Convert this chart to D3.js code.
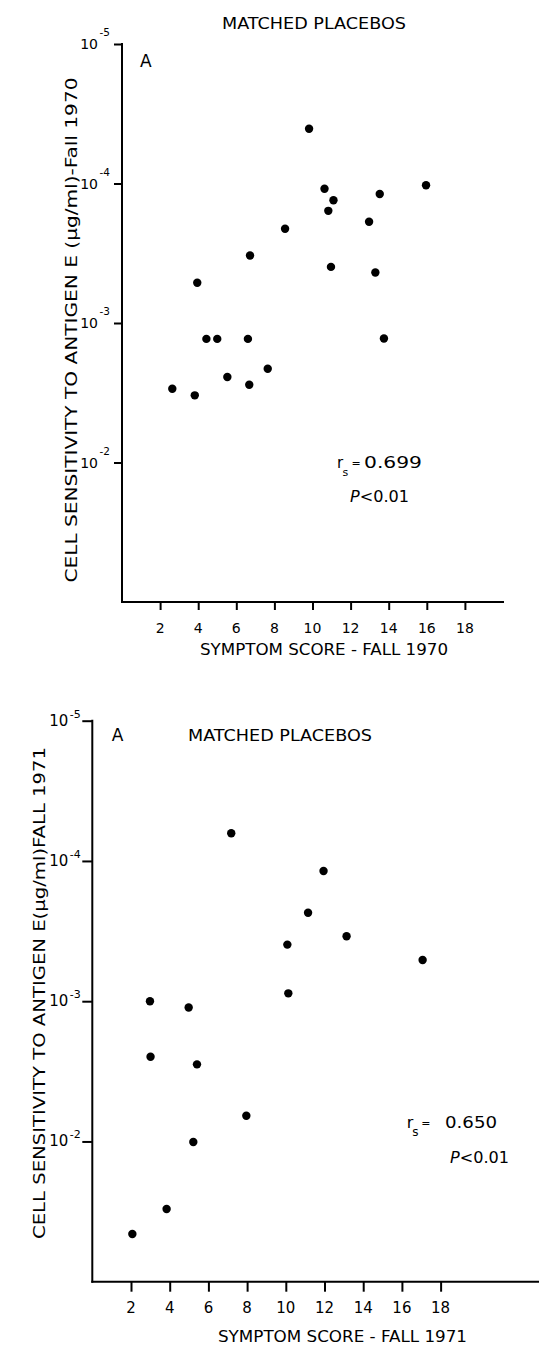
<!DOCTYPE html>
<html>
<head>
<meta charset="utf-8">
<script src="https://cdn.jsdelivr.net/npm/d3@7"></script>
<style>
  html, body { margin: 0; padding: 0; background: #fff; }
  svg { display: block; }
  text { font-family: "DejaVu Sans", sans-serif; fill: #000; }
</style>
</head>
<body>
<svg id="chart" width="539" height="1347"></svg>
<script>
// ---------- DATA ----------
const xTicks = [2, 4, 6, 8, 10, 12, 14, 16, 18];
const yTicks = [1e-5, 1e-4, 1e-3, 1e-2];
const yTickExponents = ["-5", "-4", "-3", "-2"];

// Panel 1: Fall 1970
const score1970 = [9.82, 10.63, 11.1, 10.83, 13.53, 12.97, 8.56, 6.72, 10.97, 13.3, 3.95,
                   4.43, 5.0, 6.61, 13.75, 7.65, 5.53, 6.68, 2.64, 3.82, 15.96];
const sens1970 = [4.05e-5, 1.09e-4, 1.32e-4, 1.57e-4, 1.19e-4, 1.88e-4, 2.11e-4, 3.28e-4, 3.96e-4, 4.35e-4, 5.15e-4,
                  1.30e-3, 1.30e-3, 1.30e-3, 1.29e-3, 2.13e-3, 2.44e-3, 2.77e-3, 2.96e-3, 3.30e-3, 1.03e-4];

// Panel 2: Fall 1971
const score1971 = [7.18, 11.95, 11.15, 13.14, 10.08, 17.07, 10.13, 2.98, 4.98, 3.01, 5.41, 7.96, 5.22, 3.84, 2.07];
const sens1971 = [6.35e-5, 1.18e-4, 2.34e-4, 3.44e-4, 3.95e-4, 5.08e-4, 8.79e-4, 1.0e-3, 1.11e-3,
                  2.49e-3, 2.82e-3, 6.55e-3, 1.01e-2, 3.03e-2, 4.57e-2];

const titles = ["MATCHED PLACEBOS", "MATCHED PLACEBOS"];
const panelLetters = ["A", "A"];
const xTitles = ["SYMPTOM SCORE - FALL 1970", "SYMPTOM SCORE - FALL 1971"];
const yTitles = ["CELL SENSITIVITY TO ANTIGEN E (\u03BCg/ml)-Fall 1970",
                 "CELL SENSITIVITY TO ANTIGEN E(\u03BCg/ml)FALL 1971"];
const rsValues = ["0.699", "0.650"];
const pTexts = ["<0.01", "<0.01"];

// ---------- LAYOUT ----------
const panels = [
  {
    xs: score1970, ys: sens1970,
    xDomain: [0, 20], xRange: [122, 503],
    yDomain: [1e-5, 1e-1], yRange: [44, 602],
    tick: 8, font: 14, supFont: 10.5, labEnd: 24, supDy: -8,
    title: {x: 222, y: 29.3, len: 184},
    letter: {x: 140, y: 66.7},
    xTitle: {x: 200, y: 655, len: 248},
    yTitle: {x: 77, cy: 330, len: 505},
    xLabY: 633,
    rs: {x: 337, y: 468, size: 15, numX: 364, numLen: 58},
    p: {x: 350, y: 502, size: 15, len: 59}
  },
  {
    xs: score1971, ys: sens1971,
    xDomain: [0, 23.1], xRange: [92.3, 539.3],
    yDomain: [1e-5, 1e-1], yRange: [720.7, 1281.7],
    tick: 10, font: 15, supFont: 11, labEnd: 24, supDy: -3,
    title: {x: 188, y: 740.7, len: 184},
    letter: {x: 111.7, y: 740.7},
    xTitle: {x: 218, y: 1342, len: 249},
    yTitle: {x: 45, cy: 993, len: 492},
    xLabY: 1313,
    rs: {x: 406.7, y: 1128, size: 16, numX: 445, numLen: 52},
    p: {x: 450, y: 1163, size: 16, len: 59}
  }
];

const svg = d3.select("#chart");

panels.forEach((p, i) => {
  const x = d3.scaleLinear().domain(p.xDomain).range(p.xRange);
  const y = d3.scaleLog().domain(p.yDomain).range(p.yRange);
  const g = svg.append("g");

  // X axis
  const xAxis = g.append("g")
    .attr("transform", `translate(0,${p.yRange[1]})`)
    .call(d3.axisBottom(x).tickValues(xTicks).tickSize(p.tick).tickSizeOuter(0).tickFormat(""));
  xAxis.select(".domain").attr("stroke", "#000").attr("stroke-width", 2)
    .attr("d", `M${p.xRange[0] - 1},0H${p.xRange[1] + 1}`);
  xAxis.selectAll(".tick line").attr("stroke", "#000").attr("stroke-width", 2);
  xTicks.forEach(v => {
    g.append("text")
      .attr("x", x(v)).attr("y", p.xLabY)
      .attr("text-anchor", "middle")
      .attr("font-size", p.font)
      .text(String(v));
  });

  // Y axis
  const yAxis = g.append("g")
    .attr("transform", `translate(${p.xRange[0]},0)`)
    .call(d3.axisLeft(y).tickValues(yTicks).tickSize(p.tick).tickSizeOuter(0).tickFormat(""));
  yAxis.select(".domain").attr("stroke", "#000").attr("stroke-width", 2)
    .attr("d", `M0,${p.yRange[0] - 1}V${p.yRange[1] + 1}`);
  yAxis.selectAll(".tick line").attr("stroke", "#000").attr("stroke-width", 2);
  yTicks.forEach((v, k) => {
    const ty = y(v);
    const endX = p.xRange[0] - p.labEnd;
    g.append("text")
      .attr("x", endX).attr("y", ty + 5)
      .attr("text-anchor", "end")
      .attr("font-size", p.font)
      .text("10");
    g.append("text")
      .attr("x", endX + 1.5).attr("y", ty + p.supDy)
      .attr("font-size", p.supFont)
      .text(yTickExponents[k]);
  });

  // Points
  g.append("g").selectAll("circle")
    .data(p.xs.map((d, k) => [d, p.ys[k]]))
    .join("circle")
    .attr("cx", d => x(d[0]))
    .attr("cy", d => y(d[1]))
    .attr("r", 4.2)
    .attr("fill", "#000");

  // Titles
  g.append("text").attr("x", p.title.x).attr("y", p.title.y)
    .attr("font-size", 16).attr("textLength", p.title.len).attr("lengthAdjust", "spacingAndGlyphs")
    .text(titles[i]);
  g.append("text").attr("x", p.letter.x).attr("y", p.letter.y)
    .attr("font-size", 17).text(panelLetters[i]);
  g.append("text").attr("x", p.xTitle.x).attr("y", p.xTitle.y)
    .attr("font-size", 16).attr("textLength", p.xTitle.len).attr("lengthAdjust", "spacingAndGlyphs")
    .text(xTitles[i]);
  g.append("text")
    .attr("transform", `translate(${p.yTitle.x},${p.yTitle.cy}) rotate(-90)`)
    .attr("text-anchor", "middle")
    .attr("font-size", 16).attr("textLength", p.yTitle.len).attr("lengthAdjust", "spacingAndGlyphs")
    .text(yTitles[i]);

  // Statistics
  g.append("text").attr("x", p.rs.x).attr("y", p.rs.y).attr("font-size", p.rs.size).text("r");
  g.append("text").attr("x", p.rs.x + 5.5).attr("y", p.rs.y + 8).attr("font-size", p.rs.size - 4).text("s");
  g.append("text").attr("x", p.rs.x + 14.5).attr("y", p.rs.y - 1.5).attr("font-size", 11).text("=");
  g.append("text").attr("x", p.rs.numX).attr("y", p.rs.y).attr("font-size", p.rs.size)
    .attr("textLength", p.rs.numLen).attr("lengthAdjust", "spacingAndGlyphs")
    .text(rsValues[i]);
  const pt = g.append("text").attr("x", p.p.x).attr("y", p.p.y).attr("font-size", p.p.size)
    .attr("textLength", p.p.len).attr("lengthAdjust", "spacingAndGlyphs");
  pt.append("tspan").attr("font-style", "italic").text("P");
  pt.append("tspan").text(pTexts[i]);
});
</script>
</body>
</html>
